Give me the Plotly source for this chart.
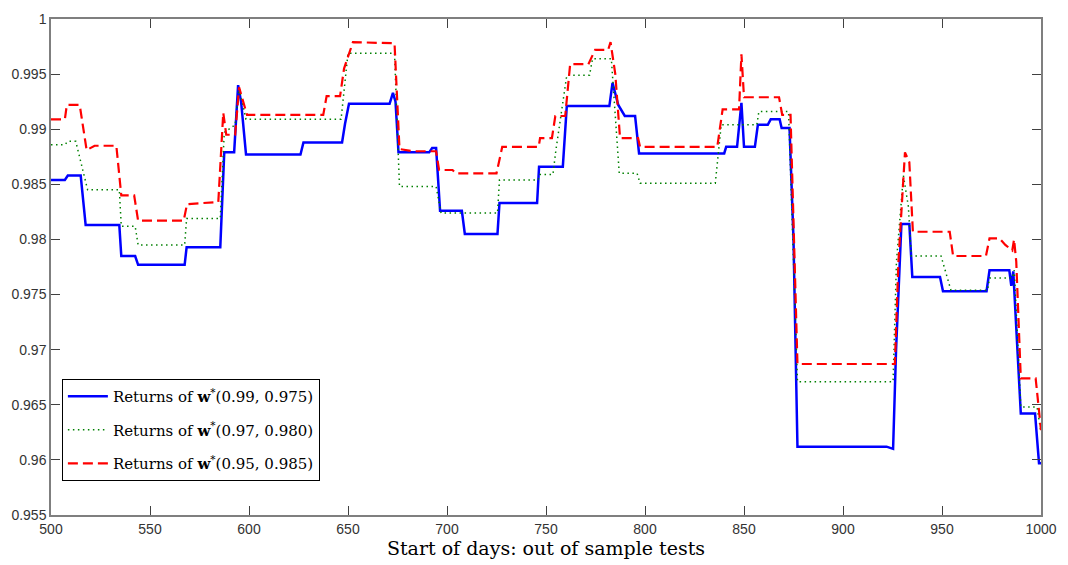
import plotly.graph_objects as go

blue_x = [500, 507, 508.5, 515, 517.5, 534.5, 535.5, 542.5, 544, 567.5, 568.5, 585.5, 587.5, 592.5, 594.5, 596,
          598.5, 626, 627.5, 647, 648.5, 650.5, 671, 672.7, 674, 675.5, 691, 692.5, 694.5, 696.5, 707.5, 709,
          725.5, 726.5, 745.5, 746.5, 758.5, 760.5, 782, 783.6, 786.5, 789.8, 795, 797, 840, 841, 846.5, 848.7,
          850, 855.5, 857, 862, 863.5, 868, 869, 873, 875, 877, 922, 925.3, 926.8, 929.5, 933.5, 935, 949, 950.5,
          972.5, 974, 984, 985, 986, 989.8, 997, 999, 1000]
blue_y = [0.9854, 0.9854, 0.9858, 0.9858, 0.9813, 0.9813, 0.9785, 0.9785, 0.9777, 0.9777, 0.9793, 0.9793, 0.9879,
          0.9879, 0.9940, 0.9925, 0.9877, 0.9877, 0.9888, 0.9888, 0.9905, 0.9923, 0.9923, 0.9933, 0.9925, 0.9879,
          0.9879, 0.9883, 0.9883, 0.9826, 0.9826, 0.9805, 0.9805, 0.9833, 0.9833, 0.9866, 0.9866, 0.9921, 0.9921,
          0.9942, 0.9922, 0.9912, 0.9912, 0.9878, 0.9878, 0.9884, 0.9884, 0.9924, 0.9884, 0.9884, 0.9904, 0.9904,
          0.9909, 0.9909, 0.9901, 0.9901, 0.9800, 0.9612, 0.9612, 0.9610, 0.9700, 0.9814, 0.9814, 0.9766, 0.9766,
          0.9753, 0.9753, 0.9772, 0.9772, 0.9758, 0.9771, 0.9642, 0.9642, 0.9597, 0.9597]

green_x = [500, 507, 508.5, 512.5, 518.5, 534.5, 535.5, 542.5, 544, 567.5, 568.5, 585.5, 587.5, 593, 595, 598.5,
           646.5, 650, 673.5, 676, 694.5, 697, 725.5, 726.5, 746, 747, 753.5, 755, 760.5, 772, 773.5, 783, 787,
           796, 797.5, 835.5, 838.5, 856.5, 857.5, 872.5, 877, 925.3, 927, 930.5, 933, 934.5, 949.5, 954.5, 973,
           974, 985.5, 986.5, 989.8, 998, 1000]
green_y = [0.9886, 0.9886, 0.9889, 0.9889, 0.9845, 0.9845, 0.9812, 0.9812, 0.9795, 0.9795, 0.9819, 0.9819, 0.9897,
           0.9904, 0.9937, 0.9909, 0.9909, 0.9969, 0.9969, 0.9848, 0.9848, 0.9824, 0.9824, 0.9854, 0.9854, 0.9859,
           0.9859, 0.9881, 0.9949, 0.9949, 0.9964, 0.9964, 0.9860, 0.9860, 0.9851, 0.9851, 0.9904, 0.9904, 0.9916,
           0.9916, 0.9671, 0.9671, 0.9780, 0.9858, 0.9830, 0.9785, 0.9785, 0.9754, 0.9754, 0.9765, 0.9765, 0.9772,
           0.9648, 0.9648, 0.9625]

red_x = [500, 507, 508, 514.5, 518, 522, 533, 535.5, 542, 544, 567, 568.7, 584.5, 587, 588.5, 593, 595, 599,
         637.5, 639.2, 646, 648, 652.5, 673.5, 676, 683, 694.5, 696, 702.8, 704.5, 725, 727.9, 746.3, 747, 753,
         754.7, 759.7, 762.2, 771.4, 774.8, 781.4, 782.6, 785, 787.4, 796.5, 797.5, 836.5, 839.2, 847.5, 848.7,
         850, 867.7, 869.3, 873.5, 877, 926.2, 928, 931.3, 933.5, 935.3, 953.9, 955.6, 972.2, 974, 979, 982,
         985.5, 986.4, 987.5, 989.8, 997.3, 1000]
red_y = [0.9909, 0.9909, 0.9922, 0.9922, 0.9881, 0.9885, 0.9885, 0.9840, 0.9840, 0.9817, 0.9817, 0.9832, 0.9834,
         0.9915, 0.9895, 0.9895, 0.9938, 0.9913, 0.9913, 0.9930, 0.9930, 0.9955, 0.9979, 0.9978, 0.9882, 0.9880,
         0.9880, 0.9863, 0.9863, 0.9860, 0.9860, 0.9884, 0.9884, 0.9892, 0.9892, 0.9912, 0.9912, 0.9959, 0.9959,
         0.9972, 0.9972, 0.9979, 0.9950, 0.9892, 0.9892, 0.9884, 0.9884, 0.9918, 0.9918, 0.9968, 0.9929, 0.9929,
         0.9913, 0.9913, 0.9687, 0.9687, 0.9780, 0.9879, 0.9870, 0.9807, 0.9807, 0.9785, 0.9785, 0.9801, 0.9801,
         0.9795, 0.9790, 0.9800, 0.9780, 0.9674, 0.9674, 0.9627]

x_ticks = [500, 550, 600, 650, 700, 750, 800, 850, 900, 950, 1000]
y_ticks = [0.955, 0.96, 0.965, 0.97, 0.975, 0.98, 0.985, 0.99, 0.995, 1.0]
y_tick_labels = ["0.955", "0.96", "0.965", "0.97", "0.975", "0.98", "0.985", "0.99", "0.995", "1"]

names = ["Returns of <b>w</b><sup>*</sup>(0.99, 0.975)",
         "Returns of <b>w</b><sup>*</sup>(0.97, 0.980)",
         "Returns of <b>w</b><sup>*</sup>(0.95, 0.985)"]

fig = go.Figure()
fig.add_trace(go.Scatter(x=blue_x, y=blue_y, mode="lines", name=names[0], legendgroup="a",
                         line=dict(color="#0000ff", width=2.5)))
fig.add_trace(go.Scatter(x=green_x, y=green_y, mode="lines", name=names[1], legendgroup="b",
                         line=dict(color="#008000", width=1.5, dash="1.5px,3.5px")))
fig.add_trace(go.Scatter(x=red_x, y=red_y, mode="lines", name=names[2], legendgroup="c",
                         line=dict(color="#ff0000", width=2.2, dash="10px,5px")))

axis_common = dict(showline=True, mirror="ticks", linecolor="#7f7f7f", linewidth=1.5,
                   ticks="inside", ticklen=9, tickcolor="#404040", tickwidth=1,
                   showgrid=False, zeroline=False,
                   tickfont=dict(family="Liberation Sans, Arial, sans-serif", size=14, color="#333333"))

fig.update_layout(
    width=1068, height=565,
    margin=dict(l=51, r=21, t=11, b=48),
    paper_bgcolor="white", plot_bgcolor="white",
    showlegend=True,
    legend=dict(x=0.011, y=0.274, xanchor="left", yanchor="top",
                bgcolor="white", bordercolor="#000000", borderwidth=1,
                font=dict(family="DejaVu Serif, Liberation Serif, serif", size=15, color="#000000"),
                tracegroupgap=11, itemwidth=40),
    xaxis=dict(range=[500, 1000], tickvals=x_ticks, **axis_common,
               title=dict(text="Start of days: out of sample tests", standoff=4,
                          font=dict(family="DejaVu Serif, Liberation Serif, serif", size=19, color="#000000"))),
    yaxis=dict(range=[0.955, 1.0], tickvals=y_ticks, ticktext=y_tick_labels, **axis_common),
)

fig.write_html("out.html")
